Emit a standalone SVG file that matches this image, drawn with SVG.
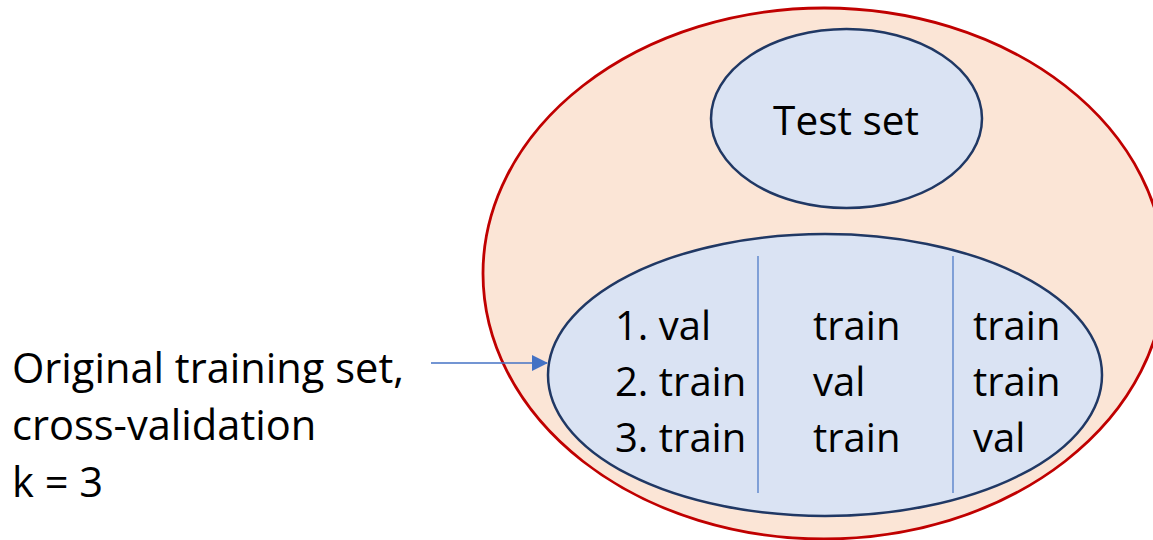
<svg xmlns="http://www.w3.org/2000/svg" width="1153" height="540" viewBox="0 0 1153 540">
  <defs>
    <style>
      .txt { font-family: "Open Sans", "Liberation Sans", sans-serif; fill: #000000; }
      .inner { fill: #DAE3F3; stroke: #203864; stroke-width: 2.5; }
      .div { stroke: #4472C4; stroke-width: 1.2; }
    </style>
    <marker id="arrow" markerWidth="16" markerHeight="16" refX="15" refY="8" orient="auto" markerUnits="userSpaceOnUse">
      <path d="M0,0 L16,8 L0,16 Z" fill="#4472C4"/>
    </marker>
  </defs>
  <rect width="1153" height="540" fill="#FFFFFF"/>
  <g id="outer-set">
    <ellipse cx="824" cy="273.5" rx="341" ry="265.5" fill="#FBE5D6" stroke="#C00000" stroke-width="2.8"/>
  </g>
  <g id="test-set">
    <ellipse class="inner" cx="846.5" cy="118.5" rx="135.5" ry="89.5"/>
    <text class="txt" x="846" y="135" font-size="40.5" text-anchor="middle">Test set</text>
  </g>
  <g id="training-set">
    <ellipse class="inner" cx="825" cy="375" rx="277" ry="141"/>
    <line class="div" x1="758" y1="256" x2="758" y2="493"/>
    <line class="div" x1="953" y1="256" x2="953" y2="493"/>
    <g class="txt" font-size="40">
      <text x="615" y="340">1. val</text>
      <text x="615" y="396">2. train</text>
      <text x="615" y="452">3. train</text>
      <text x="813" y="340">train</text>
      <text x="813" y="396">val</text>
      <text x="813" y="452">train</text>
      <text x="973" y="340">train</text>
      <text x="973" y="396">train</text>
      <text x="973" y="452">val</text>
    </g>
  </g>
  <g id="label">
    <text class="txt" font-size="41.6" x="12" y="383">Original training set,</text>
    <text class="txt" font-size="41.6" x="12" y="440">cross-validation</text>
    <text class="txt" font-size="41.6" x="12" y="497">k = 3</text>
  </g>
  <g id="connectors">
    <line x1="431" y1="363" x2="547" y2="363" stroke="#4472C4" stroke-width="1.5" marker-end="url(#arrow)"/>
  </g>
</svg>
